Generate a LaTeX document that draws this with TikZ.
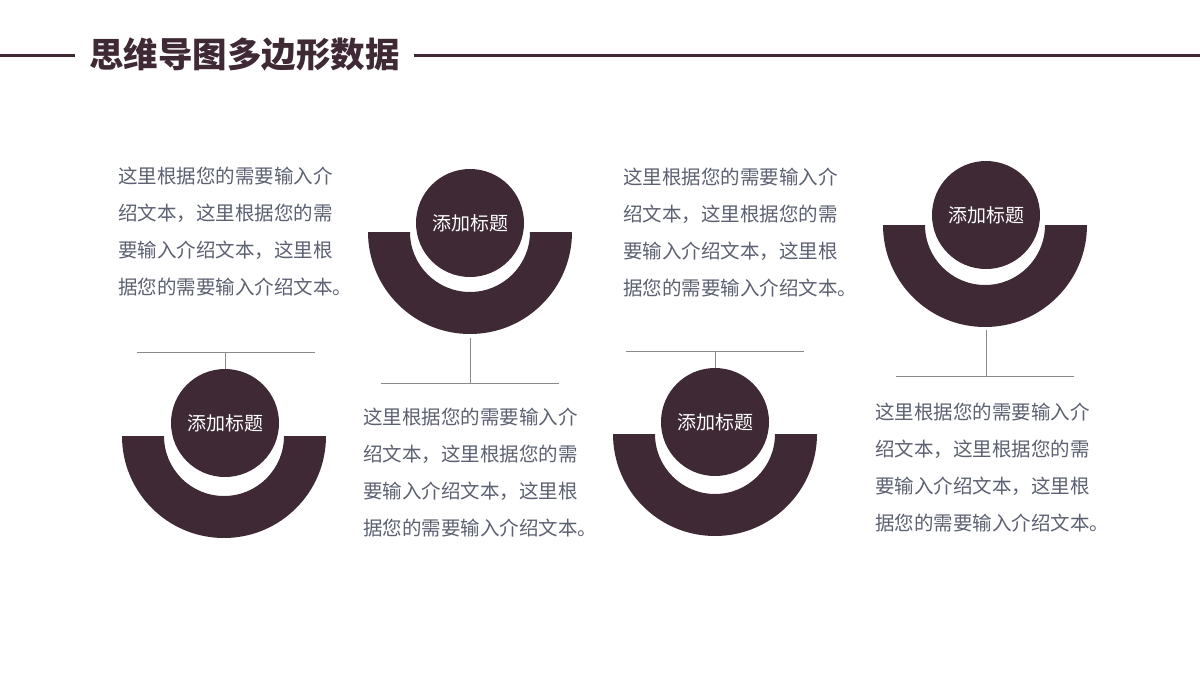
\documentclass[tikz,border=0pt]{standalone}
\usepackage{fontspec}
\setmainfont{Noto Sans CJK SC}
\usetikzlibrary{positioning}
\definecolor{plum}{HTML}{3E2935}
\definecolor{bodygray}{HTML}{5C6172}
\definecolor{rulegray}{HTML}{8A8A8A}

\begin{document}
\begin{tikzpicture}[x=1pt, y=-1pt,
    ring/.style={fill=plum},
    badge/.style={circle, fill=plum, minimum size=108pt, inner sep=0pt, text=white, font=\fontsize{19}{19}\selectfont},
    note/.style={anchor=base west, align=left, inner sep=0pt, text=bodygray, font=\fontsize{19.5}{36.7}\selectfont},
    stem/.style={draw=rulegray, line width=1pt}]
        \useasboundingbox (0,0) rectangle (1200,675);
        \fill[white] (0,0) rectangle (1200,675);
        % title
        \node[font=\fontsize{34.5}{34.5}\selectfont\bfseries, text=plum, anchor=west, inner sep=0pt] (title) at (89,55) {思维导图多边形数据};
        \coordinate (tl) at (0,55);
        \coordinate (tr) at (1200,55);
        \draw[plum, line width=3pt] (tl) -- ([xshift=-14pt]title.west);
        \draw[plum, line width=3pt] ([xshift=14pt]title.east) -- (tr);

        % half rings
        \coordinate (rA) at (224,436);
        \coordinate (rB) at (470,232);
        \coordinate (rC) at (715,434);
        \coordinate (rD) at (985,225);
        \fill[ring] (rA) ++(102,0) arc[start angle=0, end angle=180, radius=102] -- ++(42,0) arc[start angle=180, end angle=0, radius=60] -- cycle;
        \fill[ring] (rB) ++(102,0) arc[start angle=0, end angle=180, radius=102] -- ++(42,0) arc[start angle=180, end angle=0, radius=60] -- cycle;
        \fill[ring] (rC) ++(102,0) arc[start angle=0, end angle=180, radius=102] -- ++(42,0) arc[start angle=180, end angle=0, radius=60] -- cycle;
        \fill[ring] (rD) ++(102,0) arc[start angle=0, end angle=180, radius=102] -- ++(42,0) arc[start angle=180, end angle=0, radius=60] -- cycle;

        % badges
        \node[badge] (bA) at (225,423) {添加标题};
        \node[badge] (bB) at (470,223) {添加标题};
        \node[badge] (bC) at (715,422) {添加标题};
        \node[badge] (bD) at (986,215) {添加标题};

        % bars and stems
        \coordinate (barAl) at (137,352);
        \coordinate (barAr) at (315,352);
        \draw[stem] (barAl) -- (barAr);
        \draw[stem] (bA.north) -- (bA.north |- barAl);

        \coordinate (footB) at (470,338);
        \coordinate (barBl) at (381,383);
        \coordinate (barBr) at (559,383);
        \draw[stem] (barBl) -- (barBr);
        \draw[stem] (footB) -- (footB |- barBl);

        \coordinate (barCl) at (626,351);
        \coordinate (barCr) at (804,351);
        \draw[stem] (barCl) -- (barCr);
        \draw[stem] (bC.north) -- (bC.north |- barCl);

        \coordinate (footD) at (986,330);
        \coordinate (barDl) at (896,376);
        \coordinate (barDr) at (1074,376);
        \draw[stem] (barDl) -- (barDr);
        \draw[stem] (footD) -- (footD |- barDl);

        % notes (anchored at the last line)
        \node[note] (nA) at (118,294) {这里根据您的需要输入介\\绍文本，这里根据您的需\\要输入介绍文本，这里根\\据您的需要输入介绍文本。};
        \node[note] (nB) at (363,535) {这里根据您的需要输入介\\绍文本，这里根据您的需\\要输入介绍文本，这里根\\据您的需要输入介绍文本。};
        \node[note] (nC) at (623,295) {这里根据您的需要输入介\\绍文本，这里根据您的需\\要输入介绍文本，这里根\\据您的需要输入介绍文本。};
        \node[note] (nD) at (875,530) {这里根据您的需要输入介\\绍文本，这里根据您的需\\要输入介绍文本，这里根\\据您的需要输入介绍文本。};
\end{tikzpicture}
\end{document}
